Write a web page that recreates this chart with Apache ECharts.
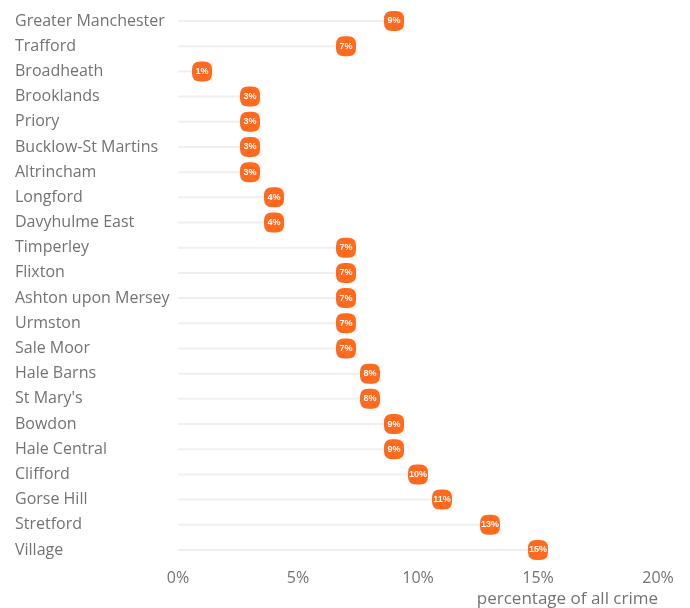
<!DOCTYPE html>
<html>
<head>
<meta charset="utf-8">
<script src="https://cdn.jsdelivr.net/npm/echarts@6/dist/echarts.min.js"></script>
<style>
  html, body { margin: 0; padding: 0; background: #fff; }
  #chart { width: 690px; height: 608px; }
</style>
</head>
<body>
<div id="chart"></div>
<script>
// areas, top to bottom
const areas = [
  'Greater Manchester', 'Trafford', 'Broadheath', 'Brooklands', 'Priory',
  'Bucklow-St Martins', 'Altrincham', 'Longford', 'Davyhulme East', 'Timperley',
  'Flixton', 'Ashton upon Mersey', 'Urmston', 'Sale Moor', 'Hale Barns',
  "St Mary's", 'Bowdon', 'Hale Central', 'Clifford', 'Gorse Hill',
  'Stretford', 'Village'
];
// percentage of all crime
const pct = [9, 7, 1, 3, 3, 3, 3, 4, 4, 7, 7, 7, 7, 7, 8, 8, 9, 9, 10, 11, 13, 15];

const orange = '#ff6a1f';
const textGrey = '#737373';
const font = '"Open Sans", sans-serif';
// rounded square marker
const dotPath = 'path://M8,0 L12,0 Q20,0 20,8 L20,12 Q20,20 12,20 L8,20 Q0,20 0,12 L0,8 Q0,0 8,0 Z';

const chart = echarts.init(document.getElementById('chart'), null, { renderer: 'canvas' });

const option = {
  animation: false,
  textStyle: { fontFamily: font },
  grid: { left: 178, right: 32, top: 8.4, bottom: 45.4, containLabel: false },
  xAxis: {
    type: 'value',
    min: 0,
    max: 20,
    interval: 5,
    splitLine: { show: false },
    axisLine: { show: false },
    axisTick: { show: false },
    axisLabel: {
      color: textGrey,
      fontFamily: font,
      fontSize: 16,
      margin: 8,
      formatter: '{value}%'
    },
    name: 'percentage of all crime',
    nameLocation: 'end',
    nameGap: 0,
    nameTextStyle: {
      color: textGrey,
      fontFamily: font,
      fontSize: 17,
      align: 'right',
      verticalAlign: 'top',
      padding: [28, 0, 0, 0]
    }
  },
  yAxis: {
    type: 'category',
    data: areas,
    inverse: true,
    axisLine: { show: false },
    axisTick: { show: false },
    splitLine: { show: false },
    axisLabel: {
      color: textGrey,
      fontFamily: font,
      fontSize: 16,
      align: 'left',
      margin: 163
    }
  },
  series: [
    {
      type: 'bar',
      data: pct,
      barWidth: 2,
      itemStyle: { color: '#efefef' },
      silent: true
    },
    {
      type: 'scatter',
      data: pct,
      symbol: dotPath,
      symbolSize: [20, 20],
      itemStyle: { color: orange, opacity: 1 },
      label: {
        show: true,
        position: 'inside',
        color: '#fff',
        fontSize: 9,
        fontWeight: 'bold',
        fontFamily: 'Arial, "Liberation Sans", sans-serif',
        formatter: function (p) { return p.value + '%'; }
      },
      z: 3
    }
  ]
};

chart.setOption(option);
</script>
</body>
</html>
